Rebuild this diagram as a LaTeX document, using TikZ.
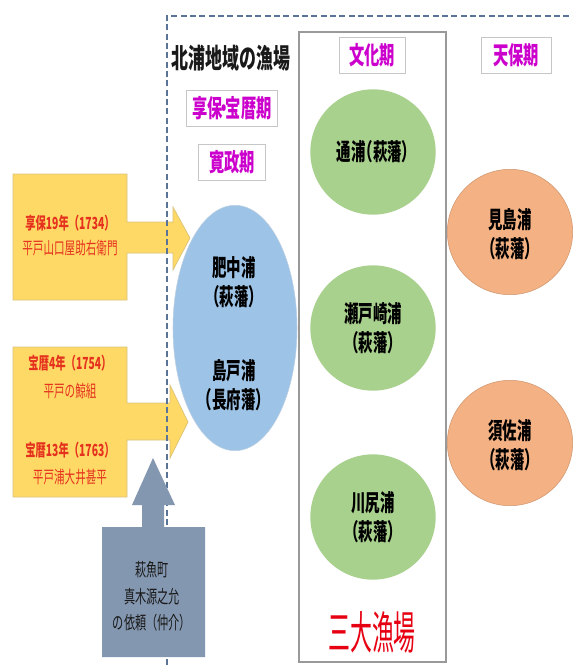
\documentclass[tikz,border=0pt]{standalone}
\usepackage{fontspec}
\usetikzlibrary{shapes.geometric}
\newfontfamily\jp[FakeStretch=0.62]{Noto Sans CJK JP}
\newcommand\LP{\kern-0.3em（}
\newcommand\RP{）\kern-0.3em}
\definecolor{ylw}{HTML}{FFD966}
\definecolor{ylwb}{HTML}{D9C27A}
\definecolor{blu}{HTML}{9DC3E6}
\definecolor{grn}{HTML}{A9D18E}
\definecolor{org}{HTML}{F4B183}
\definecolor{slate}{HTML}{8497B0}
\definecolor{frame}{HTML}{5A7498}
\definecolor{mag}{HTML}{CC00CC}
\definecolor{redt}{HTML}{E5321E}
\definecolor{redb}{HTML}{E60012}
\tikzset{
  lbl/.style={font=\jp\bfseries\fontsize{17.5}{22}\selectfont, align=center, text=black, inner sep=0pt},
  period/.style={draw=gray!45, fill=white, text=mag, font=\jp\bfseries\fontsize{18.5}{20}\selectfont, minimum height=27pt, inner sep=0pt},
  circ/.style={circle, minimum size=94pt, inner sep=0pt},
  ytxtb/.style={font=\jp\bfseries\fontsize{12.5}{14}\selectfont, text=redt, inner sep=0pt},
  ytxt/.style={font=\jp\fontsize{12.8}{14}\selectfont, text=redt, inner sep=0pt},
  gtxt/.style={font=\jp\fontsize{13.5}{15}\selectfont, text=black!90, inner sep=0pt},
  yarrow/.style={fill=ylw, draw=ylwb, line width=0.5pt},
}
\begin{document}
\begin{tikzpicture}[x=0.75pt,y=-0.75pt]
\useasboundingbox (0,0) rectangle (573,665);
\fill[white] (0,0) rectangle (573,665);

% column rectangle for 文化期
\draw[gray!80, line width=0.8pt] (299,32) rectangle (446,662);

% yellow arrows
\draw[yarrow] (13,174) -- (127,174) -- (127,222) -- (173,222) -- (173,207) -- (190,238) -- (173,270) -- (173,253) -- (127,253) -- (127,300) -- (13,300) -- cycle;
\draw[yarrow] (13,347) -- (127,347) -- (127,403) -- (170,403) -- (170,385) -- (188,422) -- (170,458) -- (170,440) -- (127,440) -- (127,497) -- (13,497) -- cycle;

% dashed frame
\draw[frame, line width=1.1pt, dash pattern=on 4.5pt off 2.5pt] (167,665) -- (167,16) -- (580,16);

% grey-blue up arrow
\fill[slate] (153,458) -- (175,505) -- (164,505) -- (164,527) -- (205,527) -- (205,657) -- (102,657) -- (102,527) -- (142,527) -- (142,505) -- (132,505) -- cycle;

% texts in yellow boxes
\node[ytxtb] (y1a) at (70,223) {享保19年（1734）};
\node[ytxt]  (y1b) at (70,248) {平戸山口屋助右衛門};
\node[ytxtb] (y2a) at (70,363) {宝暦4年（1754）};
\node[ytxt]  (y2b) at (70,391) {平戸の鯨組};
\node[ytxtb] (y2c) at (70,450) {宝暦13年（1763）};
\node[ytxt]  (y2d) at (70,477) {平戸浦大井甚平};

% text in grey box
\node[gtxt] (g1) at (152,570) {萩魚町};
\node[gtxt] (g2) at (152,597) {真木源之允};
\node[gtxt] (g3) at (152,623) {の依頼（仲介）};

% title
\node[font=\jp\bfseries\fontsize{20.5}{22}\selectfont, text=black!90, inner sep=0pt] (title) at (231,58) {北浦地域の漁場};

% period labels
\node[period, minimum width=68pt] (kyoho) at (232,108) {享保\kern-0.25em・\kern-0.25em 宝暦期};
\node[period, minimum width=50pt] (kansei) at (232,162) {寛政期};
\node[period, minimum width=49.5pt] (bunka) at (372,55) {文化期};
\node[period, minimum width=52.5pt] (tenpo) at (516,55) {天保期};

% blue ellipse
\node[ellipse, fill=blu, draw=blu!90!black!60, line width=0.4pt, minimum width=93pt, minimum height=184pt, inner sep=0pt] (ell) at (235,328) {};
\node[lbl] (hichu) at (234,282) {肥中浦\\\LP 萩藩\RP};
\node[lbl] (shimado) at (234,385) {島戸浦\\\LP 長府藩\RP};

% green circles
\node[circ, fill=grn] (c1) at (373,152) {};
\node[lbl] (t1) at (373,152) {通浦\LP 萩藩\RP};
\node[circ, fill=grn] (c2) at (373,328) {};
\node[lbl] (t2) at (373,328) {瀬戸崎浦\\\LP 萩藩\RP};
\node[circ, fill=grn] (c3) at (373,517) {};
\node[lbl] (t3) at (373,517) {川尻浦\\\LP 萩藩\RP};

% orange circles
\node[circ, fill=org, draw=org!85!black, line width=0.4pt] (o1) at (510,232) {};
\node[lbl] (t4) at (510,234) {見島浦\\\LP 萩藩\RP};
\node[circ, fill=org, draw=org!85!black, line width=0.4pt] (o2) at (510,443) {};
\node[lbl] (t5) at (510,445) {須佐浦\\\LP 萩藩\RP};

% 三大漁場
\node[font=\jp\fontsize{34}{36}\selectfont, text=redb, inner sep=0pt] (sandai) at (372,632) {\scalebox{0.78}[1]{三大漁場}};
\end{tikzpicture}
\end{document}
